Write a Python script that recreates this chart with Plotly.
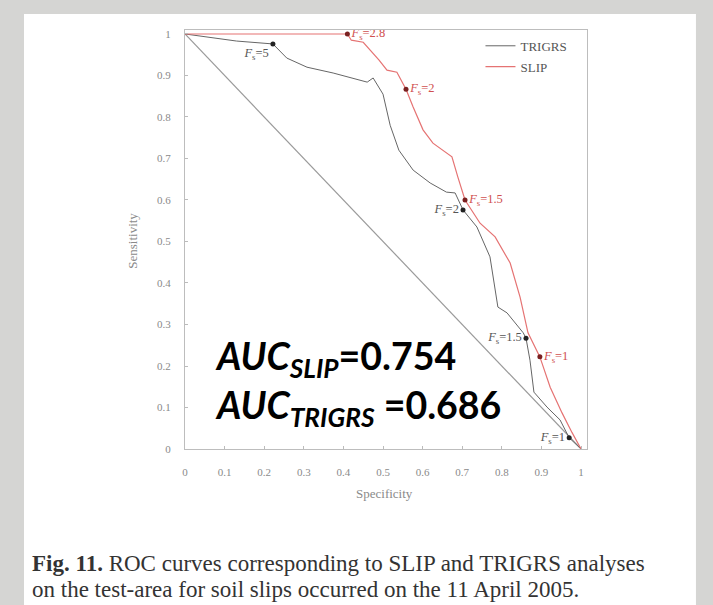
import plotly.graph_objects as go

# ROC curve of TRIGRS (specificity, sensitivity)
trigrs_spec = [0, 0.13, 0.222, 0.257, 0.308, 0.374, 0.46, 0.475, 0.50, 0.518, 0.54,
               0.576, 0.619, 0.66, 0.682, 0.702, 0.737, 0.77, 0.79, 0.813, 0.854,
               0.861, 0.871, 0.881, 0.914, 0.947, 0.97, 1.0]
trigrs_sens = [1, 0.983, 0.976, 0.942, 0.92, 0.906, 0.884, 0.894, 0.855, 0.78, 0.72,
               0.672, 0.641, 0.619, 0.617, 0.576, 0.535, 0.463, 0.342, 0.328, 0.28,
               0.267, 0.214, 0.137, 0.101, 0.07, 0.027, 0]

# ROC curve of SLIP
slip_spec = [0, 0.41, 0.42, 0.45, 0.49, 0.51, 0.535, 0.558, 0.576, 0.601, 0.626,
             0.674, 0.689, 0.707, 0.745, 0.783, 0.821, 0.846, 0.866, 0.896, 0.922,
             0.952, 0.977, 1.0]
slip_sens = [1, 1, 0.985, 0.98, 0.937, 0.913, 0.908, 0.867, 0.824, 0.769, 0.737,
             0.704, 0.655, 0.60, 0.544, 0.511, 0.448, 0.366, 0.28, 0.222, 0.149,
             0.087, 0.04, 0]

# safety-factor thresholds marked on each curve
trigrs_fs = ["5", "2", "1.5", "1"]
trigrs_fs_spec = [0.222, 0.702, 0.861, 0.97]
trigrs_fs_sens = [0.976, 0.576, 0.267, 0.027]
trigrs_fs_pos = ["bottom left", "middle left", "middle left", "middle left"]

slip_fs = ["2.8", "2", "1.5", "1"]
slip_fs_spec = [0.41, 0.558, 0.707, 0.896]
slip_fs_sens = [1.0, 0.867, 0.60, 0.222]
slip_fs_pos = ["middle right", "middle right", "middle right", "middle right"]

# random-classifier reference line
ref_spec = [0, 1]
ref_sens = [1, 0]

tick_vals = [0, 0.1, 0.2, 0.3, 0.4, 0.5, 0.6, 0.7, 0.8, 0.9, 1]
tick_text = ["0", "0.1", "0.2", "0.3", "0.4", "0.5", "0.6", "0.7", "0.8", "0.9", "1"]

auc_slip = "0.754"
auc_trigrs = "0.686"

SERIF = "Liberation Serif, Times New Roman, serif"
GREY = "#8a8a8a"
DARK = "#666666"
RED = "#e57373"
AUC_FONT = dict(family="Lato, sans-serif", size=37.5, color="#000000")
CAPTION_FONT = dict(family=SERIF, size=23, color="#333333")

fig = go.Figure()

fig.add_trace(go.Scatter(x=ref_spec, y=ref_sens, mode="lines",
                         line=dict(color="#9a9a9a", width=1.2),
                         showlegend=False, hoverinfo="skip"))

fig.add_trace(go.Scatter(x=trigrs_spec, y=trigrs_sens, mode="lines", name="TRIGRS",
                         legendgroup="trigrs",
                         line=dict(color=DARK, width=1)))
fig.add_trace(go.Scatter(x=slip_spec, y=slip_sens, mode="lines", name="SLIP",
                         legendgroup="slip",
                         line=dict(color=RED, width=1.2)))

fig.add_trace(go.Scatter(
    x=trigrs_fs_spec, y=trigrs_fs_sens, mode="markers+text",
    text=["<i>F</i><sub>s</sub>=" + v for v in trigrs_fs],
    textposition=trigrs_fs_pos,
    textfont=dict(family=SERIF, size=12.5, color="#555555"),
    marker=dict(color="#222222", size=5),
    showlegend=False))
fig.add_trace(go.Scatter(
    x=slip_fs_spec, y=slip_fs_sens, mode="markers+text",
    text=["<i>F</i><sub>s</sub>=" + v for v in slip_fs],
    textposition=slip_fs_pos,
    textfont=dict(family=SERIF, size=12.5, color="#d05050"),
    marker=dict(color="#7a2020", size=5),
    showlegend=False))

axis_common = dict(
    tickvals=tick_vals, ticktext=tick_text,
    ticks="inside", ticklen=3, tickcolor="#bbbbbb",
    showline=True, linecolor="#bdbdbd", linewidth=1, mirror=True,
    showgrid=False, zeroline=False,
    tickfont=dict(family=SERIF, size=11, color=GREY),
)

fig.update_xaxes(range=[0, 1.015], ticklabelstandoff=13, **axis_common)
fig.update_yaxes(range=[0, 1.0096], ticklabelstandoff=11, **axis_common)

annotations = [
    dict(text="Sensitivity", xref="paper", yref="paper", x=-0.154, y=0.496,
         textangle=-90, showarrow=False,
         font=dict(family=SERIF, size=13, color=GREY)),
    dict(text="Specificity", xref="paper", yref="paper", x=0.497, y=-0.129,
         showarrow=False, font=dict(family=SERIF, size=13, color=GREY)),
    dict(text="<b><i>AUC<sub>SLIP</sub></i>=" + auc_slip + "</b>",
         xref="paper", yref="paper", x=0.0697, y=0.217, xanchor="left",
         yanchor="middle", showarrow=False, font=AUC_FONT),
    dict(text="<b><i>AUC<sub>TRIGRS</sub></i> =" + auc_trigrs + "</b>",
         xref="paper", yref="paper", x=0.0697, y=0.098, xanchor="left",
         yanchor="middle", showarrow=False, font=AUC_FONT),
    dict(text="<b>Fig. 11.</b> ROC curves corresponding to SLIP and TRIGRS analyses",
         xref="paper", yref="paper", x=-0.3856, y=-0.274, xanchor="left",
         yanchor="middle", showarrow=False, font=CAPTION_FONT),
    dict(text="on the test-area for soil slips occurred on the 11 April 2005.",
         xref="paper", yref="paper", x=-0.3856, y=-0.3365, xanchor="left",
         yanchor="middle", showarrow=False, font=CAPTION_FONT),
]

fig.update_layout(
    width=713, height=605,
    margin=dict(l=185, r=126, t=30, b=156),
    paper_bgcolor="#d5d5d3",
    plot_bgcolor="#ffffff",
    shapes=[dict(type="rect", xref="paper", yref="paper",
                 x0=-0.4005, x1=1.271, y0=-0.3723, y1=1.038,
                 fillcolor="#ffffff", line=dict(width=0), layer="below")],
    annotations=annotations,
    legend=dict(x=0.735, y=0.998, xanchor="left", yanchor="top",
                bgcolor="rgba(0,0,0,0)", borderwidth=0,
                font=dict(family=SERIF, size=13, color="#555555"),
                tracegroupgap=1, itemwidth=30),
    showlegend=True,
)

fig.write_html("out.html")
